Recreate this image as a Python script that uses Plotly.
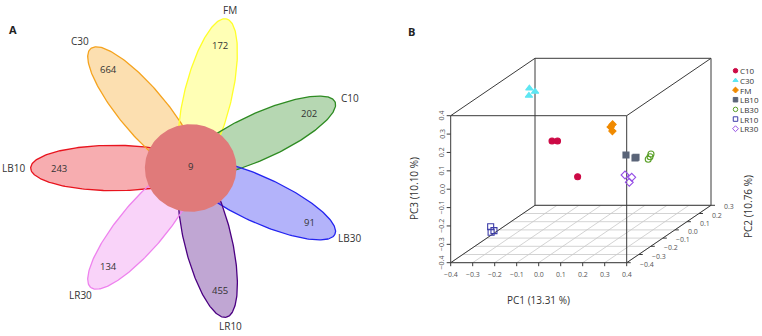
import numpy as np
import plotly.graph_objects as go

# ---------------- Panel A data (flower diagram) ----------------
petal_sets = ["LB10", "C30", "FM", "C10", "LB30", "LR10", "LR30"]
petal_unique = [243, 664, 172, 202, 91, 455, 134]
core_count = 9
petal_line = ["#E8141E", "#F5A31E", "#FFFF2A", "#2E8B22", "#2424F0", "#4B0082", "#EE82EE"]
petal_fill_alpha = 0.35
core_color = "#E07A7A"

# ---------------- Panel B data (PCA 3D) ----------------
groups = ["C10", "C30", "FM", "LB10", "LB30", "LR10", "LR30"]
pc1_values = [[-0.131, -0.106, 0.062], [-0.349, -0.323, -0.351], [0.106, 0.097, 0.105],
              [0.2435, 0.289, 0.2845], [0.2805, 0.268, 0.276], [-0.295, -0.280, -0.293],
              [0.239, 0.2695, 0.2585]]
pc2_values = [[-0.05, -0.05, -0.19], [0.16, 0.16, 0.16], [0.02, 0.02, 0.02],
              [-0.12, -0.12, -0.12], [0.02, 0.02, 0.02], [-0.26, -0.26, -0.26],
              [-0.12, -0.12, -0.12]]
pc3_values = [[0.106, 0.106, -0.026], [0.299, 0.281, 0.259], [0.165, 0.151, 0.129],
              [0.061, 0.0487, 0.045], [0.004, -0.0247, -0.0106], [-0.267, -0.288, -0.297],
              [-0.0477, -0.0602, -0.0874]]
group_symbols = ["circle", "triangle-up", "diamond", "square", "circle-open", "square-open", "diamond-open"]
group_colors = ["#CC0A46", "#5EE6F2", "#F08A00", "#5A6478", "#5AA028", "#3C3CA8", "#9650E6"]
pc1_ticks = [-0.4, -0.3, -0.2, -0.1, 0.0, 0.1, 0.2, 0.3, 0.4]
pc2_ticks = [-0.4, -0.3, -0.2, -0.1, 0.0, 0.1, 0.2, 0.3]
pc3_ticks = [-0.4, -0.3, -0.2, -0.1, 0.0, 0.1, 0.2, 0.3, 0.4]
axis_titles = ["PC1 (13.31 %)", "PC2 (10.76 %)", "PC3 (10.10 %)"]

FONT = "Open Sans"
TXT = "#333333"

fig = go.Figure()
annotations = []


def rgba(hexc, a):
    h = hexc.lstrip("#")
    r, g, b = int(h[0:2], 16), int(h[2:4], 16), int(h[4:6], 16)
    return f"rgba({r},{g},{b},{a})"


def fmt(v):
    s = f"{v:.1f}"
    if v < -1e-9:
        s = "\u2212" + s[1:]
    if s in ("-0.0", "\u22120.0"):
        s = "0.0"
    return s


# ---------------- Panel A geometry ----------------
cx, cy = 190.7, 168.0
sx = 1.046
a_len, c_off, b_w = 80.0, 73.0, 22.7
r_num = 126.0
r_lab_x, r_lab_y = 169.0, 162.0
t = np.linspace(0, 2 * np.pi, 241)
n = len(petal_sets)
paths = []
for i in range(n):
    th = np.deg2rad(180 - i * 360.0 / n)
    u = c_off + a_len * np.cos(t)
    v = b_w * np.sin(t)
    X = cx + sx * (u * np.cos(th) - v * np.sin(th))
    Y = cy - (u * np.sin(th) + v * np.cos(th))
    paths.append((X, Y, th))

for i, (X, Y, th) in enumerate(paths):
    fig.add_trace(go.Scatter(x=X, y=Y, mode="lines", fill="toself",
                             fillcolor=rgba(petal_line[i], petal_fill_alpha),
                             line=dict(width=0), hoverinfo="skip", showlegend=False))
for i, (X, Y, th) in enumerate(paths):
    fig.add_trace(go.Scatter(x=X, y=Y, mode="lines",
                             line=dict(color=petal_line[i], width=1.3),
                             hoverinfo="skip", showlegend=False))
# core circle
fig.add_trace(go.Scatter(x=cx + sx * 43.8 * np.cos(t), y=cy - 43.8 * np.sin(t), mode="lines",
                         fill="toself", fillcolor=core_color, line=dict(width=0, color=core_color),
                         hoverinfo="skip", showlegend=False))

for i, (X, Y, th) in enumerate(paths):
    annotations.append(dict(x=cx + sx * r_num * np.cos(th), y=cy - r_num * np.sin(th),
                            text=str(petal_unique[i]), showarrow=False,
                            font=dict(size=9.5, color=TXT, family=FONT)))
    annotations.append(dict(x=cx + sx * r_lab_x * np.cos(th), y=cy - r_lab_y * np.sin(th),
                            text=petal_sets[i], showarrow=False, borderpad=0,
                            font=dict(size=10, color=TXT, family=FONT)))
annotations.append(dict(x=cx, y=cy - 2, text=str(core_count), showarrow=False,
                        font=dict(size=9.5, color=TXT, family=FONT)))
annotations.append(dict(x=13, y=29, text="<b>A</b>", showarrow=False,
                        font=dict(size=11, color="#222222", family=FONT)))

# ---------------- Panel B projection ----------------
ox, oy = 450.7, 262.7
W, H = 176.0, 147.0
DX, DY = 84.3, -57.4
x_lo, x_hi = pc1_ticks[0], pc1_ticks[-1]
y_lo, y_hi = pc2_ticks[0], pc2_ticks[-1]
z_lo, z_hi = pc3_ticks[0], pc3_ticks[-1]


def proj(p1, p2, p3):
    p1, p2, p3 = np.asarray(p1, float), np.asarray(p2, float), np.asarray(p3, float)
    d = (p2 - y_lo) / (y_hi - y_lo)
    X = ox + (p1 - x_lo) / (x_hi - x_lo) * W + d * DX
    Y = oy - (p3 - z_lo) / (z_hi - z_lo) * H + d * DY
    return X, Y


def segs(pairs):
    xs, ys = [], []
    for p, q in pairs:
        X1, Y1 = proj(*p)
        X2, Y2 = proj(*q)
        xs += [float(X1), float(X2), None]
        ys += [float(Y1), float(Y2), None]
    return xs, ys


# floor grid
grid = []
for tk in pc1_ticks:
    grid.append(((tk, y_lo, z_lo), (tk, y_hi, z_lo)))
for tk in pc2_ticks:
    grid.append(((x_lo, tk, z_lo), (x_hi, tk, z_lo)))
gx, gy = segs(grid)
fig.add_trace(go.Scatter(x=gx, y=gy, mode="lines", line=dict(color="#C8C8C8", width=0.8),
                         hoverinfo="skip", showlegend=False))

# box
c000 = (x_lo, y_lo, z_lo); c100 = (x_hi, y_lo, z_lo); c101 = (x_hi, y_lo, z_hi); c001 = (x_lo, y_lo, z_hi)
c010 = (x_lo, y_hi, z_lo); c110 = (x_hi, y_hi, z_lo); c111 = (x_hi, y_hi, z_hi); c011 = (x_lo, y_hi, z_hi)
box = [(c000, c100), (c100, c101), (c101, c001), (c001, c000),
       (c010, c110), (c110, c111), (c111, c011), (c011, c010),
       (c000, c010), (c100, c110), (c101, c111), (c001, c011)]
bx, by = segs(box)
fig.add_trace(go.Scatter(x=bx, y=by, mode="lines", line=dict(color="#3A3A3A", width=1.0),
                         hoverinfo="skip", showlegend=False))

# tick marks
tx, ty = [], []
for tk in pc1_ticks:
    X, Y = proj(tk, y_lo, z_lo)
    tx += [float(X), float(X), None]; ty += [float(Y), float(Y) + 3.5, None]
    annotations.append(dict(x=float(X), y=float(Y) + 11.5, text=fmt(tk), showarrow=False,
                            font=dict(size=7, color="#555555", family=FONT)))
for tk in pc3_ticks:
    X, Y = proj(x_lo, y_lo, tk)
    tx += [float(X), float(X) - 4, None]; ty += [float(Y), float(Y), None]
    annotations.append(dict(x=float(X) - 9, y=float(Y), text=fmt(tk), showarrow=False, textangle=-90,
                            font=dict(size=7, color="#555555", family=FONT)))
for tk in pc2_ticks:
    X, Y = proj(x_hi, tk, z_lo)
    tx += [float(X), float(X) + 4, None]; ty += [float(Y), float(Y), None]
    annotations.append(dict(x=float(X) + 11, y=float(Y) + 1.5, text=fmt(tk), showarrow=False,
                            xanchor="left", font=dict(size=7, color="#555555", family=FONT)))
fig.add_trace(go.Scatter(x=tx, y=ty, mode="lines", line=dict(color="#3A3A3A", width=1.0),
                         hoverinfo="skip", showlegend=False))

# axis titles
annotations.append(dict(x=538, y=300, text=axis_titles[0], showarrow=False,
                        font=dict(size=10, color=TXT, family=FONT)))
annotations.append(dict(x=414, y=189, text=axis_titles[2], showarrow=False, textangle=-90,
                        font=dict(size=10, color=TXT, family=FONT)))
annotations.append(dict(x=748, y=207, text=axis_titles[1], showarrow=False, textangle=-90,
                        font=dict(size=10, color=TXT, family=FONT)))
annotations.append(dict(x=411, y=31.5, text="<b>B</b>", showarrow=False,
                        font=dict(size=11, color="#222222", family=FONT)))

# points
for g, name in enumerate(groups):
    X, Y = proj(pc1_values[g], pc2_values[g], pc3_values[g])
    sym = group_symbols[g]
    size = 6.5 if "triangle" in sym else (5.5 if sym == "diamond" else 6)
    fig.add_trace(go.Scatter(x=X, y=Y, mode="markers", name=name, showlegend=False,
                             marker=dict(symbol=sym, size=size, color=group_colors[g],
                                         line=dict(width=1.1, color=group_colors[g])),
                             hoverinfo="skip"))

# manual legend
leg_x, leg_y0, leg_dy = 735.5, 70.7, 9.67
for g, name in enumerate(groups):
    yy = leg_y0 + g * leg_dy
    fig.add_trace(go.Scatter(x=[leg_x], y=[yy], mode="markers", showlegend=False,
                             marker=dict(symbol=group_symbols[g], size=4.5, color=group_colors[g],
                                         line=dict(width=1, color=group_colors[g])),
                             hoverinfo="skip"))
    annotations.append(dict(x=leg_x + 3.5, y=yy, text=name, showarrow=False, xanchor="left",
                            borderpad=0, font=dict(size=8, color=TXT, family=FONT)))

fig.update_layout(
    width=762, height=336, autosize=False,
    margin=dict(l=0, r=0, t=0, b=0, pad=0),
    paper_bgcolor="white", plot_bgcolor="white",
    xaxis=dict(range=[0, 762], visible=False, fixedrange=True),
    yaxis=dict(range=[336, 0], visible=False, fixedrange=True),
    annotations=annotations, hovermode=False, showlegend=False,
    font=dict(family=FONT),
)
fig.write_html("out.html")
